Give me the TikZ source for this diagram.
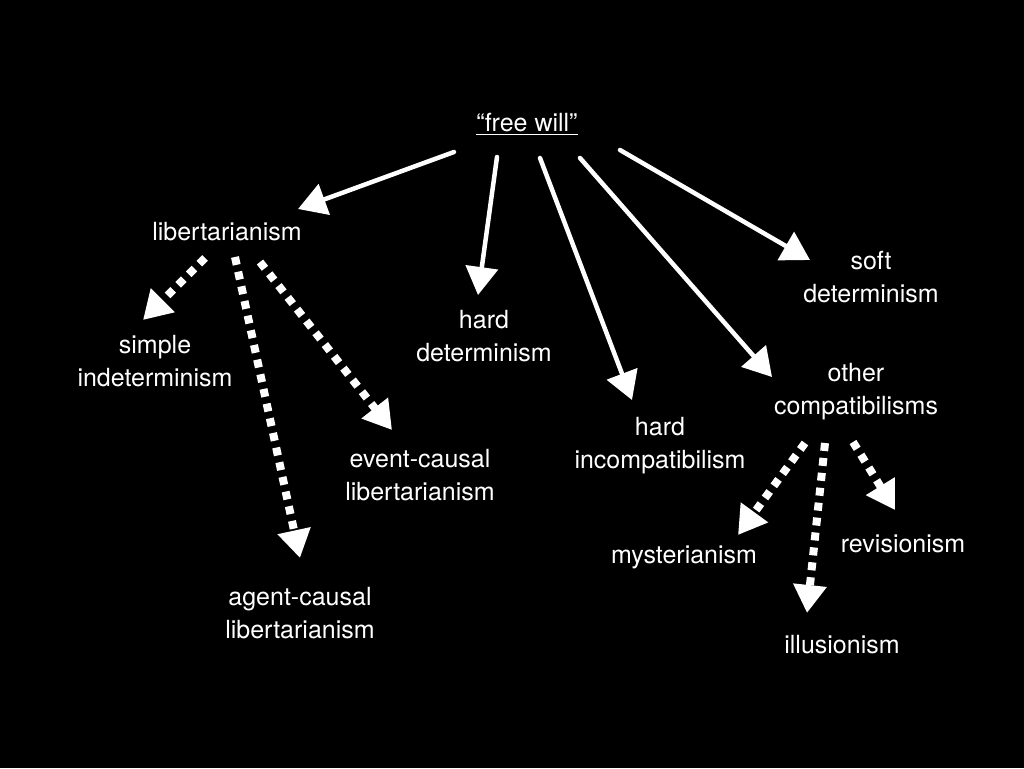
\documentclass[tikz,border=0pt]{standalone}
\usepackage{fontspec}
\setmainfont{TeX Gyre Heros}
\usetikzlibrary{arrows.meta,calc}

\begin{document}
\begin{tikzpicture}[
  x=1pt,y=-1pt,
  term/.style={text=white,font=\fontsize{25}{33}\selectfont,align=center,inner sep=0pt},
  sub/.style={draw=white,line width=4.5pt,line cap=round,
    -{Triangle[length=28pt,width=32pt]}},
  dots/.style={draw=white,line width=8pt,dash pattern=on 8pt off 7pt,
    -{Triangle[length=28pt,width=32pt]}}
]
  % background
  \fill[black] (0,0) rectangle (1024,768);
  \useasboundingbox (0,0) rectangle (1024,768);

  % terms
  \node[term] (fw)    at (527,124) {\underline{“free will”}};
  \node[term] (lib)   at (227,232) {libertarianism};
  \node[term] (sind)  at (155,361) {simple\\indeterminism};
  \node[term] (hdet)  at (484,336) {hard\\determinism};
  \node[term] (sdet)  at (871,277) {soft\\determinism};
  \node[term] (hinc)  at (660,446) {hard\\incompatibilism};
  \node[term] (ocomp) at (856,392) {other\\compatibilisms};
  \node[term] (evlib) at (420,475) {event-causal\\libertarianism};
  \node[term] (aglib) at (300,613) {agent-causal\\libertarianism};
  \node[term] (myst)  at (684,557) {mysterianism};
  \node[term] (rev)   at (903,544) {revisionism};
  \node[term] (ill)   at (842,645) {illusionism};

  % from "free will"
  \draw[sub] ($(fw)+(-73,28)$) -- ($(lib)+(71,-23)$);
  \draw[sub] ($(fw)+(-30,33)$) -- ($(hdet)+(-6,-41)$);
  \draw[sub] ($(fw)+(13,34)$)  -- ($(hinc)+(-28,-46)$);
  \draw[sub] ($(fw)+(53,34)$)  -- ($(ocomp)+(-84,-15)$);
  \draw[sub] ($(fw)+(93,26)$)  -- ($(sdet)+(-61,-17)$);

  % libertarian branches
  \draw[dots] ($(lib)+(-22,26)$) -- ($(sind)+(-12,-41)$);
  \draw[dots] ($(lib)+(8,25)$)   -- ($(aglib)+(0,-55)$);
  \draw[dots] ($(lib)+(33,30)$)  -- ($(evlib)+(-28,-45)$);

  % compatibilist branches
  \draw[dots] ($(ocomp)+(-51,51)$) -- ($(myst)+(54,-22)$);
  \draw[dots] ($(ocomp)+(-31,51)$) -- ($(ill)+(-35,-32)$);
  \draw[dots] ($(ocomp)+(-3,50)$)  -- ($(rev)+(-8,-34)$);
\end{tikzpicture}
\end{document}
